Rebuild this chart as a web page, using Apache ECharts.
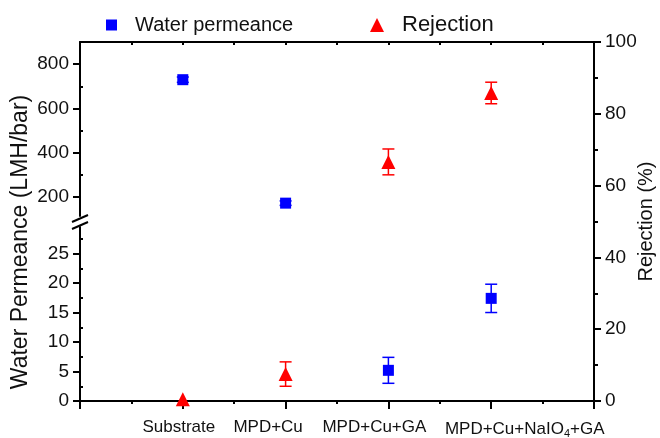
<!DOCTYPE html>
<html>
<head>
<meta charset="utf-8">
<script src="https://cdn.jsdelivr.net/npm/echarts@6/dist/echarts.min.js"></script>
<style>
  html, body { margin: 0; padding: 0; background: #fff; }
  #chart { width: 660px; height: 438px; }
</style>
</head>
<body>
<div id="chart"></div>
<script>
// Membrane samples and their measured performance
const categories = ['Substrate', 'MPD+Cu', 'MPD+Cu+GA', 'MPD+Cu+NaIO4+GA'];
const categoryLabels = ['Substrate', 'MPD+Cu', 'MPD+Cu+GA', 'MPD+Cu+NaIO{sub|4}+GA'];
const permeance = [730, 173, 5.2, 17.4];        // LMH/bar
const permeanceErr = [12, 10, 2.2, 2.4];
const rejection = [0.5, 7.5, 66.6, 85.8];       // %
const rejectionErr = [0, 3.4, 3.6, 3.0];

// Broken left axis: lower and upper segments
const lowerTicks = [0, 5, 10, 15, 20, 25];
const lowerMinor = [2.5, 7.5, 12.5, 17.5, 22.5, 27.5];
const upperTicks = [200, 400, 600, 800];
const upperMinor = [300, 500, 700];
const BREAK_LOW = 29.5;
const BREAK_HIGH = 115;
const UPPER_MAX = 900;

// Horizontal nudge of each category label (px, negative = left)
const labelShift = [-4, -17.5, -14, 33.5];

const FONT = 'Liberation Sans, Arial, Helvetica, sans-serif';
const INK = '#111';
const BLUE = '#0000ff';
const RED = '#ff0000';

const permPts = permeance.map((v, i) => [i + 1, v, permeanceErr[i], categories[i]]);
const upperPts = permPts.filter(p => p[1] >= BREAK_HIGH);
const lowerPts = permPts.filter(p => p[1] <= BREAK_LOW);
const rejPts = rejection.map((v, i) => [i + 1, v, rejectionErr[i], categories[i]]);

function errorBar(color) {
  return function (params, api) {
    const x = api.value(0), y = api.value(1), e = api.value(2);
    if (!e) return null;
    const top = api.coord([x, y + e]);
    const bot = api.coord([x, y - e]);
    const hw = 6;
    const style = { stroke: color, lineWidth: 1.5, fill: null };
    return {
      type: 'group',
      children: [
        { type: 'line', shape: { x1: top[0], y1: top[1], x2: bot[0], y2: bot[1] }, style },
        { type: 'line', shape: { x1: top[0] - hw, y1: top[1], x2: top[0] + hw, y2: top[1] }, style },
        { type: 'line', shape: { x1: bot[0] - hw, y1: bot[1], x2: bot[0] + hw, y2: bot[1] }, style }
      ]
    };
  };
}

// Category label with a spacer token that offsets it from its tick
const labelRich = { sub: { fontSize: 11, fontFamily: FONT, color: INK, padding: [9, 0, 0, 0] } };
labelShift.forEach((s, i) => { labelRich['pad' + i] = { width: Math.abs(2 * s) }; });
function categoryLabel(v) {
  const i = Math.round(v) - 1;
  const t = categoryLabels[i];
  if (t === undefined) return '';
  return labelShift[i] < 0 ? t + '{pad' + i + '| }' : '{pad' + i + '| }' + t;
}

const axisLine = { show: true, onZero: false, lineStyle: { color: '#000', width: 2 } };
const tickLine = { color: '#000', width: 2 };

const chart = echarts.init(document.getElementById('chart'), null, { renderer: 'canvas' });

chart.setOption({
  animation: false,
  backgroundColor: '#fff',
  textStyle: { fontFamily: FONT, color: INK },
  grid: [
    { left: 80, width: 514, top: 42, height: 174, outerBoundsMode: 'none' },   // upper permeance segment
    { left: 80, width: 514, top: 227, height: 174, outerBoundsMode: 'none' },  // lower permeance segment
    { left: 80, width: 514, top: 42, height: 359, outerBoundsMode: 'none' }    // full frame, rejection
  ],
  legend: [
    {
      left: 106, top: 15, padding: 0, itemWidth: 11, itemHeight: 11, selectedMode: false,
      data: [{ name: 'Water permeance', icon: 'rect' }],
      textStyle: { fontSize: 20, color: INK, fontFamily: FONT, padding: [0, 0, 0, 13] }
    },
    {
      left: 370, top: 14, padding: 0, itemWidth: 14, itemHeight: 14, selectedMode: false,
      data: [{ name: 'Rejection', icon: 'triangle' }],
      textStyle: { fontSize: 22, color: INK, fontFamily: FONT, padding: [0, 0, 0, 13] }
    }
  ],
  xAxis: [
    {
      type: 'value', gridIndex: 0, position: 'top', min: 0, max: 5, interval: 1,
      axisLine,
      axisTick: { show: true, inside: true, length: 3, lineStyle: tickLine },
      minorTick: { show: true, splitNumber: 2, length: 3, lineStyle: tickLine },
      axisLabel: { show: false },
      splitLine: { show: false }
    },
    {
      type: 'value', gridIndex: 1, min: 0, max: 5, interval: 1, show: false,
      splitLine: { show: false }
    },
    {
      type: 'value', gridIndex: 2, position: 'bottom', min: 0, max: 5, interval: 1,
      axisLine,
      axisTick: { show: true, length: 8, lineStyle: tickLine },
      minorTick: { show: true, splitNumber: 2, length: 3, lineStyle: tickLine },
      axisLabel: {
        fontSize: 17, color: INK, fontFamily: FONT, margin: 18,
        formatter: categoryLabel,
        rich: labelRich
      },
      splitLine: { show: false }
    }
  ],
  yAxis: [
    {
      type: 'value', gridIndex: 0, position: 'left', min: BREAK_HIGH, max: UPPER_MAX,
      axisLine,
      axisTick: { show: true, length: 7, lineStyle: tickLine, customValues: upperTicks },
      axisLabel: { fontSize: 19, color: INK, fontFamily: FONT, margin: 11, customValues: upperTicks },
      splitLine: { show: false }
    },
    {
      type: 'value', gridIndex: 0, position: 'left', min: BREAK_HIGH, max: UPPER_MAX,
      axisLine: { show: false },
      axisTick: { show: true, inside: true, length: 3, lineStyle: tickLine, customValues: upperMinor },
      axisLabel: { show: false },
      splitLine: { show: false }
    },
    {
      type: 'value', gridIndex: 1, position: 'left', min: 0, max: BREAK_LOW,
      axisLine,
      axisTick: { show: true, length: 7, lineStyle: tickLine, customValues: lowerTicks },
      axisLabel: { fontSize: 19, color: INK, fontFamily: FONT, margin: 11, customValues: lowerTicks },
      splitLine: { show: false }
    },
    {
      type: 'value', gridIndex: 1, position: 'left', min: 0, max: BREAK_LOW,
      axisLine: { show: false },
      axisTick: { show: true, inside: true, length: 3, lineStyle: tickLine, customValues: lowerMinor },
      axisLabel: { show: false },
      splitLine: { show: false }
    },
    {
      type: 'value', gridIndex: 2, position: 'right', min: 0, max: 100, interval: 20,
      axisLine,
      axisTick: { show: true, length: 7, lineStyle: tickLine },
      minorTick: { show: true, splitNumber: 2, length: 4, lineStyle: tickLine },
      axisLabel: { fontSize: 19, color: INK, fontFamily: FONT, margin: 11 },
      splitLine: { show: false },
      name: 'Rejection (%)', nameLocation: 'middle', nameRotate: 90, nameGap: 42,
      nameMoveOverlap: false,
      nameTextStyle: { fontSize: 20, color: INK, fontFamily: FONT }
    }
  ],
  graphic: [
    {
      type: 'text', x: 21, y: 242, rotation: Math.PI / 2,
      style: {
        text: 'Water Permeance (LMH/bar)', fontSize: 23, fontFamily: FONT,
        fill: INK, align: 'center', verticalAlign: 'middle'
      }
    },
    { type: 'line', shape: { x1: 72, y1: 222, x2: 88, y2: 215 }, style: { stroke: '#000', lineWidth: 2 } },
    { type: 'line', shape: { x1: 72, y1: 229, x2: 88, y2: 222 }, style: { stroke: '#000', lineWidth: 2 } }
  ],
  series: [
    {
      type: 'custom', name: 'perm-err-upper', xAxisIndex: 0, yAxisIndex: 0,
      renderItem: errorBar(BLUE), encode: { x: 0, y: 1 }, data: upperPts, z: 2
    },
    {
      type: 'scatter', name: 'Water permeance', xAxisIndex: 0, yAxisIndex: 0,
      symbol: 'rect', symbolSize: 11, itemStyle: { color: BLUE, opacity: 1 }, data: upperPts, z: 3
    },
    {
      type: 'custom', name: 'perm-err-lower', xAxisIndex: 1, yAxisIndex: 2,
      renderItem: errorBar(BLUE), encode: { x: 0, y: 1 }, data: lowerPts, z: 2
    },
    {
      type: 'scatter', name: 'Water permeance', xAxisIndex: 1, yAxisIndex: 2,
      symbol: 'rect', symbolSize: 11, itemStyle: { color: BLUE, opacity: 1 }, data: lowerPts, z: 3
    },
    {
      type: 'custom', name: 'rej-err', xAxisIndex: 2, yAxisIndex: 4,
      renderItem: errorBar(RED), encode: { x: 0, y: 1 }, data: rejPts, z: 2
    },
    {
      type: 'scatter', name: 'Rejection', xAxisIndex: 2, yAxisIndex: 4,
      symbol: 'triangle', symbolSize: 14, itemStyle: { color: RED, opacity: 1 }, data: rejPts, z: 3
    }
  ]
});
</script>
</body>
</html>
